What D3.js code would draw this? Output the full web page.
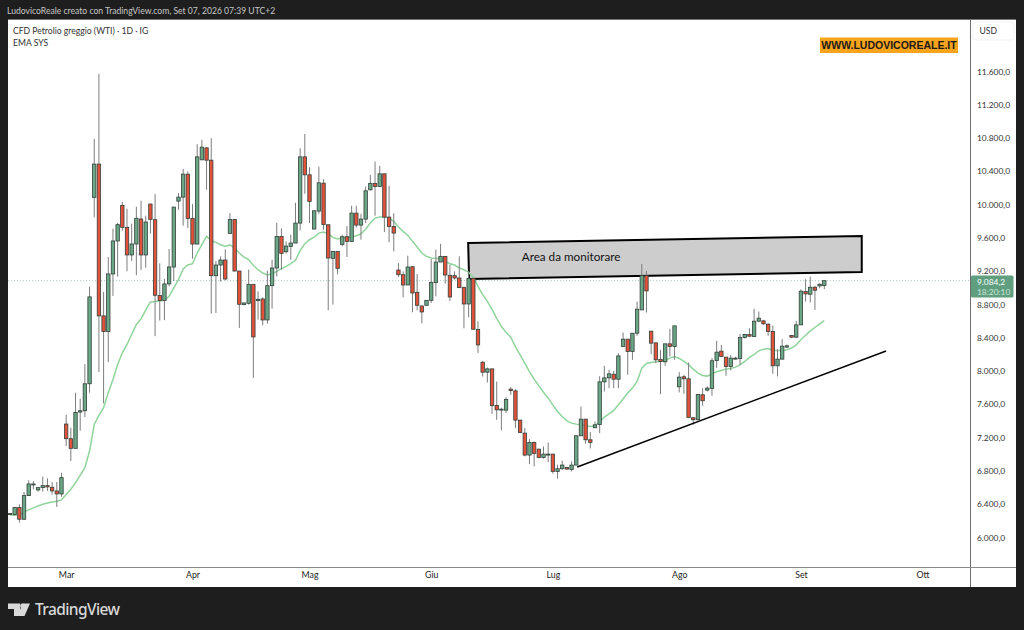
<!DOCTYPE html>
<head>
    <meta charset="utf-8">
    <script src="https://d3js.org/d3.v7.js"></script>
    <style>
        body { margin: 0; background: #1e1e1e; }
        text { font-family: Lato, sans-serif; }
    </style>
</head>
<body>
    <svg id="chart" width="1024" height="630"></svg>
    <script>
        // Values
        const opens = [6285,6273,6357,6217,6501,6633,6569,6597,6621,6601,6557,6521,7361,7185,7069,7505,7521,7845,10085,10485,8661,8473,9165,9561,9989,9725,9393,9525,9825,9393,10005,9817,8905,8845,9045,
            9248,10040,10088,10364,9832,9524,10536,10680,10532,9144,9272,9332,9652,9820,9200,8796,8812,9040,8844,8864,8612,9024,9236,9616,9432,9496,9536,9776,10572,10356,9704,9920,10256,9756,
            9352,9436,9520,9612,9556,9896,9752,9824,10176,10252,10216,10368,9848,9736,9212,9156,9032,9252,8944,8780,8788,8848,9060,9308,9376,9148,9144,9116,9000,8804,9112,8496,
            8104,7984,8024,7584,7532,7528,7780,7760,7408,7252,6988,7140,7060,6960,6992,7000,6792,6824,6840,6816,6868,7220,7420,7172,7316,7356,7868,7916,7960,7900,
            8293,8381,8233,8453,8733,9145,8477,8337,8137,8109,8325,8293,7809,7929,7905,7437,7413,7713,7769,7789,8125,8237,8165,8053,8145,8149,8401,8437,8413,8597,8601,8561,8473,8061,8141,8285,8425,8405,8553,8953,8921,9005,9021,9025];
        const highs = [6289,6357,6397,6545,6685,6677,6605,6729,6709,6665,6665,6777,7473,7317,7737,7665,8081,9013,10789,11569,8949,9369,9709,9777,10029,9949,9769,9973,10045,9865,10005,10125,9293,9105,9465,
            9968,10136,10428,10396,10004,10724,10776,10688,10796,9320,9376,9460,9896,9820,9200,8820,9216,9040,8956,8884,9204,9336,9780,9712,9556,9636,10020,10676,10848,10448,9924,10452,10304,9756,
            9436,9436,9636,9740,9984,9984,9888,10216,10356,10516,10464,10368,10224,9896,9296,9196,9384,9252,9164,8780,8848,9344,9456,9528,9376,9276,9196,9376,9016,9196,9112,8596,
            8120,8040,8024,7872,7556,7684,7804,7780,7412,7312,7180,7152,7060,7092,7140,7000,6872,6920,6840,6912,7220,7572,7420,7264,7392,7936,8060,8012,8000,8212,
            8461,8381,8453,8833,9285,9201,8477,8337,8253,8325,8505,8541,7985,7953,8101,7437,7717,7793,7813,8153,8361,8313,8165,8193,8169,8445,8445,8513,8745,8713,8613,8573,8545,8261,8381,8317,8433,8601,8981,9101,9133,9021,9053,9085];
        const lows = [6273,6265,6177,6209,6497,6577,6549,6549,6557,6513,6365,6489,7097,6917,7069,7281,7445,7737,9845,7985,7609,8105,8901,9133,9685,9197,9321,9149,9213,9241,9649,8417,8605,8609,9016,
            9080,9936,9744,9716,9348,9524,10536,10176,8688,8696,9072,9088,9652,9196,8516,8790,8796,7916,8616,8548,8568,8748,9136,9216,9408,9336,9536,9688,10128,9776,9704,9888,9696,8728,
            8796,9160,9496,9368,9556,9724,9576,9776,10168,9864,10216,9668,9544,9436,9128,8884,9032,8704,8728,8572,8788,8816,8896,9308,9048,8840,9096,9000,8512,8644,8500,8216,
            7932,7860,7484,7412,7284,7492,7712,7312,7252,6972,6880,6852,6952,6944,6904,6764,6704,6812,6812,6792,6868,7220,7124,7068,7316,7252,7752,7792,7792,7792,
            8293,7953,8133,8421,8733,8701,8201,8093,7721,8061,8173,8133,7741,7725,7441,7353,7405,7581,7753,7701,8037,8165,7941,8005,8137,8073,8389,8405,8409,8589,8553,8421,7965,7933,8141,8277,8393,8393,8553,8833,8821,8733,8993,8981];
        const closes = [6277,6357,6217,6501,6641,6641,6597,6621,6605,6557,6521,6717,7185,7069,7501,7521,7845,8889,10485,8661,8473,9165,9561,9757,9725,9393,9525,9833,9393,9789,9821,8909,8845,9045,9249,
            9968,10088,10364,9832,9524,10572,10688,10532,9144,9272,9332,9104,9820,9200,8800,8816,9040,8408,8860,8612,9024,9236,9616,9412,9500,9536,9776,10572,10356,10036,9924,10260,9760,9356,
            9436,9232,9612,9556,9896,9752,9824,10164,10252,10216,10368,9848,9736,9656,9156,9032,9248,8936,8788,8708,8848,9064,9308,9376,9152,8888,9116,9000,8804,9112,8500,8312,
            7984,8024,7584,7532,7540,7656,7764,7408,7260,6988,7140,7008,6960,7000,7000,6792,6824,6868,6820,6868,7220,7420,7172,7140,7352,7868,7916,7964,7900,8180,
            8381,8233,8453,8741,9145,8961,8333,8133,8113,8325,8293,8541,7925,7905,7441,7413,7717,7641,7793,8121,8225,8173,8053,8153,8153,8401,8437,8417,8597,8633,8565,8473,8061,8141,8297,8301,8405,8553,8957,8925,9005,8969,9041,9084.2];
        const emaValues = [6269,6265,6265,6305,6329,6353,6377,6397,6413,6425,6433,6449,6513,6577,6657,6745,6837,7037,7357,7465,7557,7737,7897,8077,8217,8317,8437,8557,8625,8729,8829,8833,8841,8849,8897,
            8996,9096,9224,9272,9288,9416,9516,9616,9568,9544,9516,9496,9516,9476,9416,9368,9336,9268,9216,9176,9152,9168,9196,9228,9256,9288,9328,9448,9528,9576,9608,9656,9668,9648,
            9604,9584,9596,9604,9608,9624,9644,9704,9776,9836,9848,9848,9836,9796,9728,9676,9628,9556,9488,9416,9376,9356,9352,9344,9316,9288,9272,9236,9216,9184,9128,9016,
            8916,8836,8740,8632,8532,8464,8404,8292,8192,8092,7992,7900,7820,7744,7672,7588,7512,7452,7400,7372,7360,7352,7340,7332,7340,7392,7444,7484,7524,7592,
            7661,7733,7793,7873,8033,8089,8101,8109,8113,8125,8153,8173,8149,8113,8073,8021,7973,7945,7937,7965,7989,8005,8021,8029,8045,8073,8113,8161,8197,8241,8261,8269,8245,8245,8245,8253,8273,8313,8373,8429,8481,8521,8565,8605];

        const yTicks = [6000,6400,6800,7200,7600,8000,8400,8800,9200,9600,10000,10400,10800,11200,11600];
        const monthLabels = ["Mar","Apr","Mag","Giu","Lug","Ago","Set","Ott"];
        const monthIndex = [12,39,64,90,116,143,169,195];

        // Drawings as [candle index, price]
        const boxCorners = [[97.9,9538],[182,9622],[182,9189],[98.1,9105]];
        const trendLine = [[121.2,6845],[187.2,8239]];

        const svg = d3.select("svg");
        const x = d3.scaleLinear().domain([0,174]).range([10,824.3]);
        const y = d3.scaleLinear().domain([6000,11600]).range([537.3,71.3]);
        const it = d3.formatLocale({decimal:",", thousands:".", grouping:[3], currency:["","€"]});
        const fmt = it.format(",.1f");

        // Panel and separators
        svg.append("rect").attr("x",8).attr("y",19).attr("width",1008).attr("height",568).attr("fill","#fff");
        svg.append("line").attr("x1",970.5).attr("x2",970.5).attr("y1",19).attr("y2",587).attr("stroke","#6e6e6e");
        svg.append("line").attr("x1",8).attr("x2",1016).attr("y1",567.5).attr("y2",567.5).attr("stroke","#8a8a8a");
        svg.append("rect").attr("x",8).attr("y",19).attr("width",1008).attr("height",1).attr("fill","#777");

        // Current price line
        svg.append("line").attr("x1",8).attr("x2",970).attr("y1",y(9084.2)).attr("y2",y(9084.2))
            .attr("stroke","#a9c8bd").attr("stroke-dasharray","1 2");

        // Grey box
        svg.append("polygon")
            .attr("points", boxCorners.map(d => [x(d[0]),y(d[1])].join(",")).join(" "))
            .attr("fill","#cdcdcd").attr("stroke","#000").attr("stroke-width",2);

        // EMA
        svg.append("path").datum(emaValues)
            .attr("fill","none").attr("stroke","#8fd49a").attr("stroke-width",1.5)
            .attr("d", d3.line().x((d,i) => x(i)).y(d => y(d)));

        // Candles
        const candles = svg.append("g").selectAll("g").data(closes).join("g");
        candles.append("line")
            .attr("x1",(d,i) => x(i)).attr("x2",(d,i) => x(i))
            .attr("y1",(d,i) => y(highs[i])).attr("y2",(d,i) => y(lows[i]))
            .attr("stroke","#7d7d7d");
        candles.append("rect")
            .attr("x",(d,i) => x(i)-1.7).attr("width",3.4)
            .attr("y",(d,i) => y(Math.max(opens[i],d)))
            .attr("height",(d,i) => Math.max(1,Math.abs(y(opens[i])-y(d))))
            .attr("fill",(d,i) => d >= opens[i] ? "#6aa786" : "#e2523a")
            .attr("stroke","#33403a").attr("stroke-width",0.8);

        // Trend line
        svg.append("path").datum(trendLine)
            .attr("fill","none").attr("stroke","#000").attr("stroke-width",1.4)
            .attr("d", d3.line().x(d => x(d[0])).y(d => y(d[1])));

        svg.append("text").attr("x",x(119.9)).attr("y",y(9369)).attr("dy","0.35em")
            .attr("text-anchor","middle").attr("font-size",11.7).attr("fill","#111").text("Area da monitorare");

        // Axes
        const yAxis = svg.append("g").attr("transform","translate(977,0)")
            .call(d3.axisRight(y).tickValues(yTicks).tickFormat(fmt).tickSize(0).tickPadding(0));
        yAxis.select(".domain").remove();
        yAxis.selectAll("text").attr("font-size",8.4).attr("fill","#333")
            .style("font-family","Lato, sans-serif");

        const xAxis = svg.append("g").attr("transform","translate(0,572)")
            .call(d3.axisBottom(x).tickValues(monthIndex).tickFormat((d,i) => monthLabels[i]).tickSize(0).tickPadding(0));
        xAxis.select(".domain").remove();
        xAxis.selectAll("text").attr("font-size",8.8).attr("fill","#222")
            .style("font-family","Lato, sans-serif");

        // Price tag
        svg.append("rect").attr("x",971).attr("y",275.5).attr("width",42.5).attr("height",22).attr("rx",1.5).attr("fill","#5f9f7f");
        svg.append("text").attr("x",977).attr("y",284.5).attr("font-size",8.4).attr("fill","#fff").text(fmt(9084.2));
        svg.append("text").attr("x",977).attr("y",294.5).attr("font-size",8.4).attr("fill","#cfe5d9").text("18:20:10");

        // USD button
        svg.append("rect").attr("x",973).attr("y",22).attr("width",41).attr("height",18).attr("rx",3).attr("fill","#fff").attr("stroke","#f3f3f3");
        svg.append("text").attr("x",979.5).attr("y",33.5).attr("font-size",8.6).attr("fill","#333").text("USD");

        // Header texts
        svg.append("text").attr("x",7).attr("y",14).attr("font-size",8.6).attr("fill","#c8c8c8")
            .text("LudovicoReale creato con TradingView.com, Set 07, 2026 07:39 UTC+2");
        svg.append("text").attr("x",13).attr("y",33.5).attr("font-size",8.6).attr("fill","#333")
            .text("CFD Petrolio greggio (WTI) · 1D · IG");
        svg.append("text").attr("x",13).attr("y",46).attr("font-size",8.6).attr("fill","#333").text("EMA SYS");

        // Website tag
        svg.append("rect").attr("x",820).attr("y",37.5).attr("width",138).attr("height",15.5).attr("fill","#f7a31c");
        svg.append("text").attr("x",889).attr("y",45.5).attr("dy","0.35em").attr("text-anchor","middle")
            .attr("font-size",10.5).attr("font-weight",700).attr("fill","#1a1a1a").style("font-family",'"Liberation Sans", sans-serif')
            .text("WWW.LUDOVICOREALE.IT");

        // Footer logo
        svg.append("path").attr("fill","#d9d9d9")
            .attr("d","M8 603.5h12v12.5h-6v-7h-6zM22.5 603.5h7.5l-5.5 12.5h-7z");
        svg.append("circle").attr("cx",22.5).attr("cy",606).attr("r",2.4).attr("fill","#d9d9d9");
        svg.append("text").attr("x",35).attr("y",614.5).attr("font-size",15.5).attr("font-weight",500).attr("fill","#d9d9d9")
            .style("font-family",'"Noto Sans", sans-serif').attr("textLength",85).text("TradingView");
    </script>
</body>
